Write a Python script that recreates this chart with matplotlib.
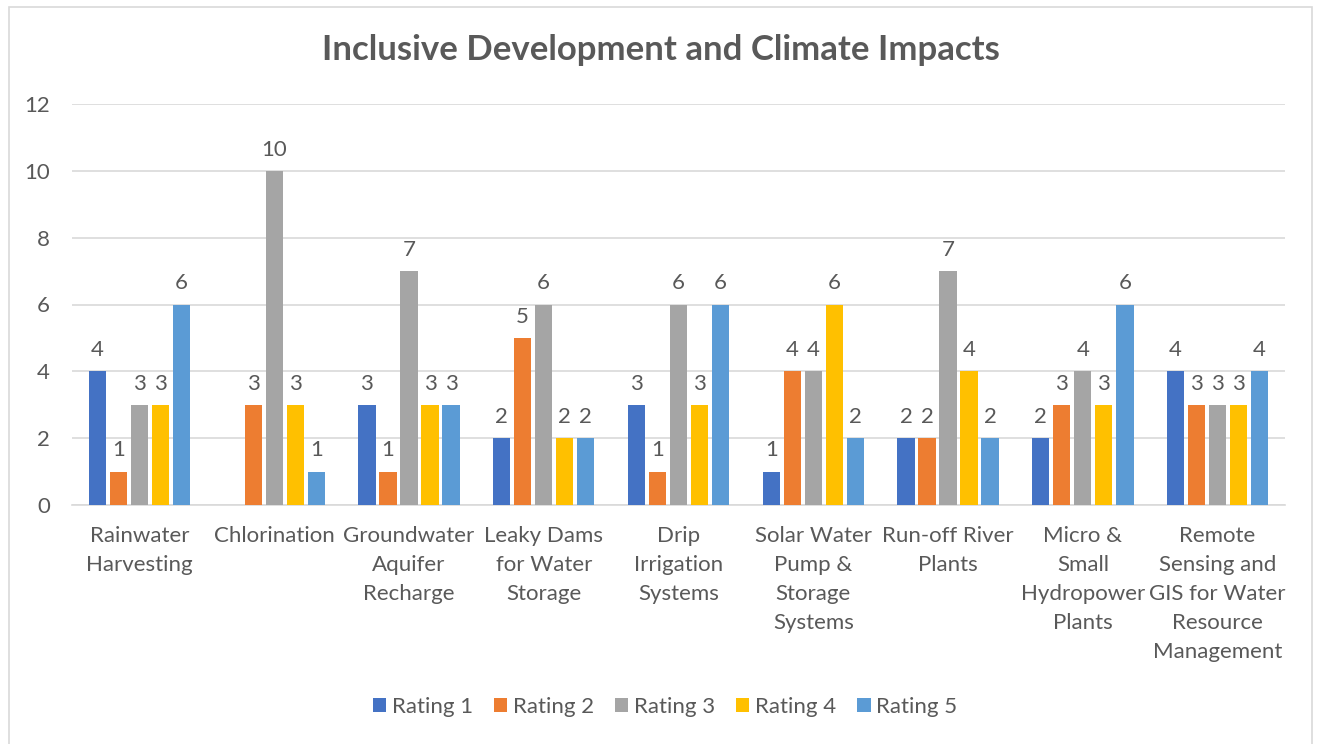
import numpy as np
import matplotlib
matplotlib.use("Agg")
import matplotlib.pyplot as plt
from matplotlib.patches import Rectangle

categories = [
    "Rainwater\nHarvesting",
    "Chlorination",
    "Groundwater\nAquifer\nRecharge",
    "Leaky Dams\nfor Water\nStorage",
    "Drip\nIrrigation\nSystems",
    "Solar Water\nPump &\nStorage\nSystems",
    "Run-off River\nPlants",
    "Micro &\nSmall\nHydropower\nPlants",
    "Remote\nSensing and\nGIS for Water\nResource\nManagement",
]
series_names = ["Rating 1", "Rating 2", "Rating 3", "Rating 4", "Rating 5"]
rating_1 = [4, np.nan, 3, 2, 3, 1, 2, 2, 4]
rating_2 = [1, 3, 1, 5, 1, 4, 2, 3, 3]
rating_3 = [3, 10, 7, 6, 6, 4, 7, 4, 3]
rating_4 = [3, 3, 3, 2, 3, 6, 4, 3, 3]
rating_5 = [6, 1, 3, 2, 6, 2, 2, 6, 4]
y_ticks = [0, 2, 4, 6, 8, 10, 12]

COLORS = ["#4472C4", "#ED7D31", "#A5A5A5", "#FFC000", "#5B9BD5"]
TEXT = "#595959"
GRID = "#d9d9d9"

plt.rcParams.update({
    "font.family": ["Lato", "DejaVu Sans"],
    "text.color": TEXT,
})

fig = plt.figure(figsize=(13.19, 7.44), dpi=100)
ax = fig.add_axes([72 / 1319, 1 - 505 / 744, (1285 - 72) / 1319, (505 - 104) / 744])

x = np.arange(len(categories))
step = 0.156
width = 0.128
all_series = [rating_1, rating_2, rating_3, rating_4, rating_5]
for i, (name, vals, col) in enumerate(zip(series_names, all_series, COLORS)):
    pos = x + (i - 2) * step
    vals = np.array(vals, dtype=float)
    ax.bar(pos, vals, width=width, color=col, label=name, zorder=3)
    for p, v in zip(pos, vals):
        if np.isnan(v):
            continue
        ax.annotate(f"{v:.0f}", (p, v), xytext=(0, 8), textcoords="offset points",
                    ha="center", va="bottom", fontsize=16, color=TEXT)

ax.set_xlim(-0.5, len(categories) - 0.5)
ax.set_ylim(0, 12)
ax.set_yticks(y_ticks)
ax.set_xticks(x)
ax.set_xticklabels(categories, linespacing=1.56, fontsize=16, color=TEXT, va="top")
ax.tick_params(axis="both", length=0, labelsize=16, labelcolor=TEXT)
ax.tick_params(axis="x", pad=15)
ax.tick_params(axis="y", pad=16)

ax.grid(axis="y", color=GRID, linewidth=1.2, zorder=0)
ax.set_axisbelow(True)
for side in ["top", "right", "left"]:
    ax.spines[side].set_visible(False)
ax.spines["bottom"].set_color(GRID)
ax.spines["bottom"].set_linewidth(1.2)

fig.text(661 / 1319, 1 - 50 / 744, "Inclusive Development and Climate Impacts",
         ha="center", va="center", fontsize=25, fontweight="bold", color=TEXT)

fig.legend(loc="center", bbox_to_anchor=(665 / 1319, 1 - 707 / 744), ncol=5,
           frameon=False, fontsize=16, handlelength=0.6, handleheight=0.6,
           handletextpad=0.25, columnspacing=0.95, labelcolor=TEXT)

fig.patches.append(Rectangle((9 / 1319, -0.05), (1312 - 9) / 1319, 1.05 - 7 / 744,
                             transform=fig.transFigure, fill=False,
                             edgecolor=GRID, linewidth=1.2))

fig.savefig("out.png", dpi=100)
